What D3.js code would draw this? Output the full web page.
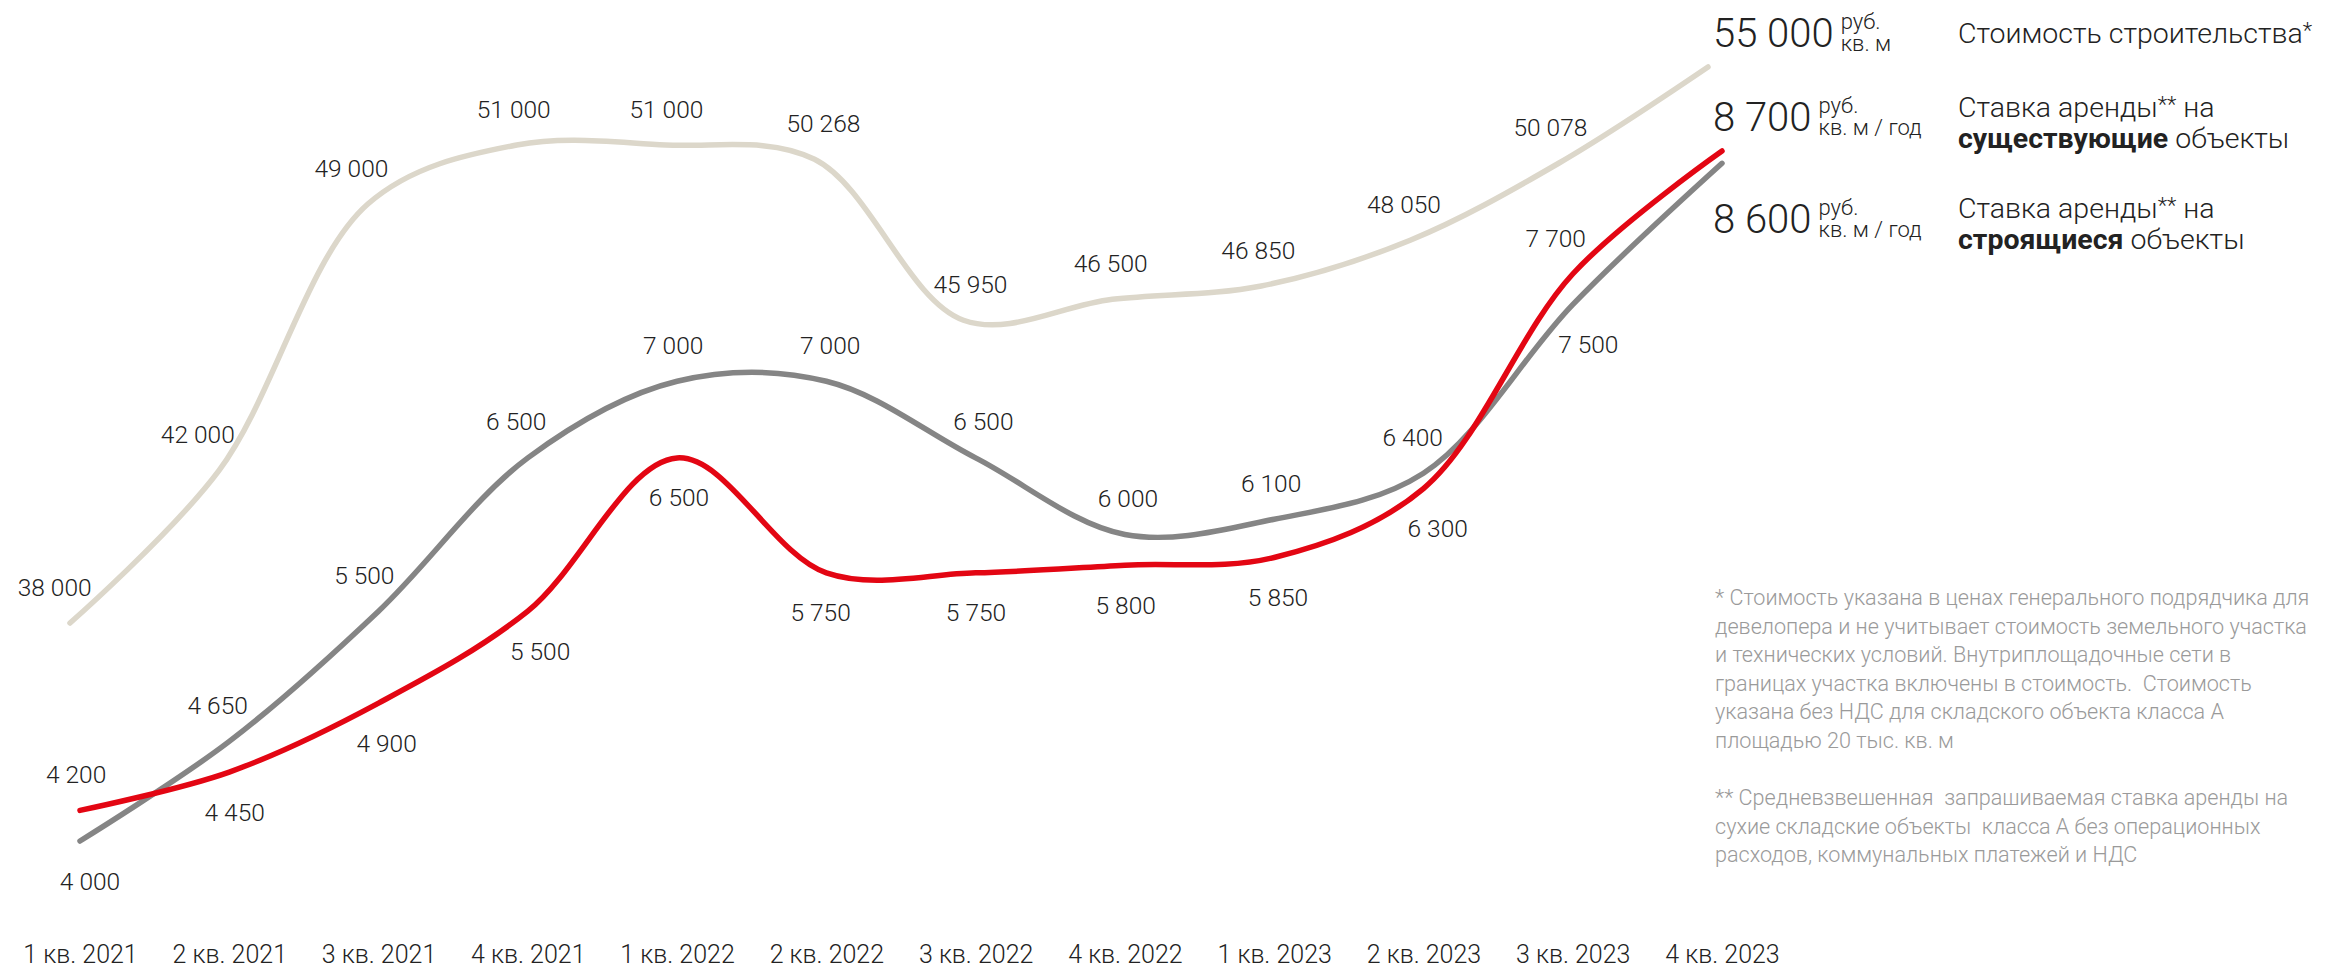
<!DOCTYPE html>
<html>
<head>
<meta charset="utf-8">
<script src="https://cdn.jsdelivr.net/npm/d3@7"></script>
<style>
body { margin: 0; background: #fff; }
svg text { font-family: Roboto, "Noto Sans", sans-serif; font-weight: 300; fill: #222; }
</style>
</head>
<body>
<svg id="chart"></svg>
<script>
var quarters = ["1 кв. 2021", "2 кв. 2021", "3 кв. 2021", "4 кв. 2021",
                "1 кв. 2022", "2 кв. 2022", "3 кв. 2022", "4 кв. 2022",
                "1 кв. 2023", "2 кв. 2023", "3 кв. 2023", "4 кв. 2023"];
var costValues = [38000, 42000, 49000, 51000, 51000, 50268, 45950, 46500, 46850, 48050, 50078, 55000];
var rentExisting = [4200, 4450, 4900, 5500, 6500, 5750, 5750, 5800, 5850, 6300, 7700, 8700];
var rentBuilding = [4000, 4650, 5500, 6500, 7000, 7000, 6500, 6000, 6100, 6400, 7500, 8600];

var legendUnits = [["руб.", "кв. м"], ["руб.", "кв. м / год"], ["руб.", "кв. м / год"]];
var footnoteCost = ["* Стоимость указана в ценах генерального подрядчика для",
                    "девелопера и не учитывает стоимость земельного участка",
                    "и технических условий. Внутриплощадочные сети в",
                    "границах участка включены в стоимость.  Стоимость",
                    "указана без НДС для складского объекта класса А",
                    "площадью 20 тыс. кв. м"];
var footnoteRent = ["** Средневзвешенная  запрашиваемая ставка аренды на",
                    "сухие складские объекты  класса А без операционных",
                    "расходов, коммунальных платежей и НДС"];

var width = 2326, height = 969;
var fmt = d3.formatLocale({decimal: ",", thousands: "\u00a0", grouping: [3], currency: ["", ""]}).format(",");

var svg = d3.select("#chart")
    .attr("width", width)
    .attr("height", height);

var x = d3.scalePoint().domain(quarters).range([80, 1722]);
var xCost = x.copy().range([70, 1708]);

// the last quarter is drawn compressed, as in the original picture
var yRent = d3.scaleLinear()
    .domain([d3.min(rentBuilding), rentExisting[10], d3.max(rentExisting)])
    .range([841, 274, 151]);
var yCost = d3.scaleLinear()
    .domain([d3.min(costValues), costValues[10], d3.max(costValues)])
    .range([623, 163, 67]);

// x axis, labels only
var axis = svg.append("g")
    .attr("transform", "translate(0,942)")
    .call(d3.axisBottom(x).tickSize(0).tickPadding(3));
axis.select(".domain").remove();
axis.selectAll("text")
    .style("font-size", "25px")
    .attr("fill", null);

function drawLine(values, xs, ys, color) {
    var line = d3.line()
        .x(function(d, i) { return xs(quarters[i]); })
        .y(function(d) { return ys(d); })
        .curve(d3.curveCatmullRom.alpha(0.5));
    svg.append("path")
        .datum(values)
        .attr("d", line)
        .attr("fill", "none")
        .attr("stroke", color)
        .attr("stroke-width", 5.5)
        .attr("stroke-linecap", "round");
}

drawLine(costValues, xCost, yCost, "#dcd7ca");
drawLine(rentBuilding, x, yRent, "#858585");
drawLine(rentExisting, x, yRent, "#e30613");

// value labels, above or below the point, nudged along the slope
function drawLabels(values, xs, ys, sideFn) {
    var pts = values.map(function(v, i) { return [xs(quarters[i]), ys(v)]; });
    var g = svg.append("g");
    values.forEach(function(v, i) {
        if (i === values.length - 1) return;
        var a = pts[Math.max(0, i - 1)], b = pts[i + 1];
        var s = (b[1] - a[1]) / (b[0] - a[0]);
        var above = sideFn(i);
        var dx = above ? 15 * s : -15 * s;
        var dy = above ? -36 : 40;
        g.append("text")
            .attr("x", pts[i][0] + dx)
            .attr("y", pts[i][1] + dy)
            .attr("dy", "0.35em")
            .attr("text-anchor", "middle")
            .style("font-size", "24.5px")
            .text(fmt(v));
    });
}

drawLabels(costValues, xCost, yCost, function() { return true; });
drawLabels(rentBuilding, x, yRent, function(i) { return rentBuilding[i] > rentExisting[i]; });
drawLabels(rentExisting, x, yRent, function(i) { return rentExisting[i] >= rentBuilding[i]; });

// legend
var legend = svg.append("g");
var legendRows = [
    {value: costValues[costValues.length - 1], y: 47, units: legendUnits[0],
     label: [[["Стоимость строительства", 300], ["*", 300, true]]], ly: [43]},
    {value: rentExisting[rentExisting.length - 1], y: 131, units: legendUnits[1],
     label: [[["Ставка аренды", 300], ["**", 300, true], [" на", 300]],
             [["существующие", 700], [" объекты", 300]]], ly: [117, 148]},
    {value: rentBuilding[rentBuilding.length - 1], y: 233, units: legendUnits[2],
     label: [[["Ставка аренды", 300], ["**", 300, true], [" на", 300]],
             [["строящиеся", 700], [" объекты", 300]]], ly: [218, 249]}
];

legendRows.forEach(function(r) {
    var num = legend.append("text")
        .attr("x", 1713)
        .attr("y", r.y)
        .style("font-size", "40px")
        .text(fmt(r.value));
    var ux = 1713 + num.node().getComputedTextLength() + 7;
    legend.append("text").attr("x", ux).attr("y", r.y - 18)
        .style("font-size", "22px").text(r.units[0]);
    legend.append("text").attr("x", ux).attr("y", r.y + 4)
        .style("font-size", "22px").text(r.units[1]);
    r.label.forEach(function(parts, k) {
        var t = legend.append("text")
            .attr("x", 1958)
            .attr("y", r.ly[k])
            .style("font-size", "28.5px")
            .attr("xml:space", "preserve");
        parts.forEach(function(p) {
            var ts = t.append("tspan").style("font-weight", p[1]).text(p[0]);
            if (p[2]) ts.style("font-size", "22px").attr("dy", -5);
            else if (p[0] === " на") ts.attr("dy", 5);
        });
    });
});

// footnotes
var notes = svg.append("g")
    .style("font-size", "21.6px");
footnoteCost.forEach(function(line, k) {
    notes.append("text")
        .attr("x", 1715)
        .attr("y", 605 + k * 28.6)
        .attr("xml:space", "preserve")
        .style("fill", "#9a9a9a")
        .text(line);
});
footnoteRent.forEach(function(line, k) {
    notes.append("text")
        .attr("x", 1715)
        .attr("y", 805 + k * 28.6)
        .attr("xml:space", "preserve")
        .style("fill", "#9a9a9a")
        .text(line);
});
</script>
</body>
</html>
